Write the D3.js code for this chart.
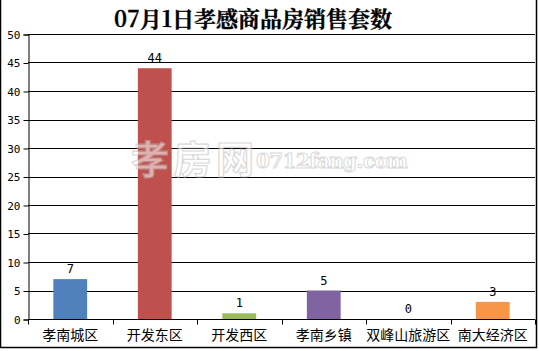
<!DOCTYPE html>
<html><head><meta charset="utf-8">
<script src="https://cdn.jsdelivr.net/npm/d3@7"></script>
<style>body{margin:0;background:#fff}svg{display:block}</style>
</head><body>
<script>
const title = "07月1日孝感商品房销售套数";
const categories = ["孝南城区","开发东区","开发西区","孝南乡镇","双峰山旅游区","南大经济区"];
const values = [7,44,1,5,0,3];
const colors = ["#4F81BD","#C0504D","#9BBB59","#8064A2","#4BACC6","#F79646"];
const yTicks = [0,5,10,15,20,25,30,35,40,45,50];

const W=539,H=351;
const svg=d3.select("body").append("svg").attr("width",W).attr("height",H);
svg.append("rect").attr("x",0.5).attr("y",-1).attr("width",536).attr("height",348.5)
  .attr("fill","#fff").attr("stroke","#000").attr("stroke-width",1.5);

const m={l:28,r:535,t:34,b:319};
const x=d3.scaleBand().domain(categories).range([m.l,m.r]).paddingInner(0).paddingOuter(0);
const y=d3.scaleLinear().domain([0,50]).range([m.b,m.t]);

// gridlines
svg.append("g").selectAll("line").data(yTicks.filter(d=>d>0)).join("line")
  .attr("x1",m.l).attr("x2",m.r).attr("y1",d=>Math.round(y(d))+0.5).attr("y2",d=>Math.round(y(d))+0.5)
  .attr("stroke","#000").attr("stroke-width",1);

// y axis
const ya=svg.append("g").attr("transform",`translate(${m.l+0.5},0.5)`)
  .call(d3.axisLeft(y).tickValues(yTicks).tickSize(5).tickPadding(3).tickFormat(d3.format("d")));
ya.select(".domain").attr("stroke","#000");
ya.selectAll("line").attr("stroke","#000");
ya.selectAll("text").attr("font-family","'DejaVu Sans Mono','Liberation Mono',monospace").attr("font-size","11px").attr("fill","#000");

// bars
const bw=x.bandwidth()*0.4;
svg.append("g").selectAll("rect").data(values).join("rect")
  .attr("x",(d,i)=>x(categories[i])+x.bandwidth()/2-bw/2)
  .attr("width",bw)
  .attr("y",d=>y(d)).attr("height",d=>y(0)-y(d))
  .attr("fill",(d,i)=>colors[i]);

// watermark
const wm=svg.append("g").attr("opacity",0.55);
wm.append("text").attr("x",131).attr("y",173).text("孝房网")
  .attr("font-family","'Noto Sans CJK SC'").attr("font-size","38px").attr("font-weight","bold")
  .attr("fill","#fff").attr("stroke","#bbb").attr("stroke-width",1.2).attr("textLength",123);
wm.append("text").attr("x",256).attr("y",168).text("0712fang.com")
  .attr("font-family","'DejaVu Serif'").attr("font-size","20px").attr("font-weight","bold")
  .attr("fill","#fff").attr("stroke","#bbb").attr("stroke-width",1).attr("textLength",152);

// x axis
const xa=svg.append("g").attr("transform",`translate(0,${m.b+0.5})`);
xa.append("line").attr("x1",m.l).attr("x2",m.r).attr("stroke","#000");
const edges=categories.map(c=>x(c)).concat([m.r]);
xa.selectAll("line.t").data(edges).join("line").attr("class","t")
  .attr("x1",d=>Math.round(d)+0.5).attr("x2",d=>Math.round(d)+0.5).attr("y1",0).attr("y2",5).attr("stroke","#000");
xa.selectAll("text").data(categories).join("text")
  .attr("x",d=>x(d)+x.bandwidth()/2).attr("y",20).attr("text-anchor","middle")
  .attr("font-family","'Noto Sans CJK SC'").attr("font-size","14px").attr("fill","#000").text(d=>d);

// value labels
svg.append("g").selectAll("text").data(values).join("text")
  .attr("x",(d,i)=>x(categories[i])+x.bandwidth()/2).attr("y",d=>y(d)-6)
  .attr("text-anchor","middle").attr("font-family","'DejaVu Sans Mono',monospace").attr("font-size","12px")
  .attr("fill","#000").text(d=>d);

// title
svg.append("text").attr("x",253).attr("y",27).attr("text-anchor","middle")
  .attr("font-family","'Noto Serif CJK SC','Noto Sans CJK SC',serif").attr("font-weight","bold")
  .attr("font-size","22px").attr("fill","#000").attr("stroke","#000").attr("stroke-width",0.3).text(title);
</script>
</body></html>
